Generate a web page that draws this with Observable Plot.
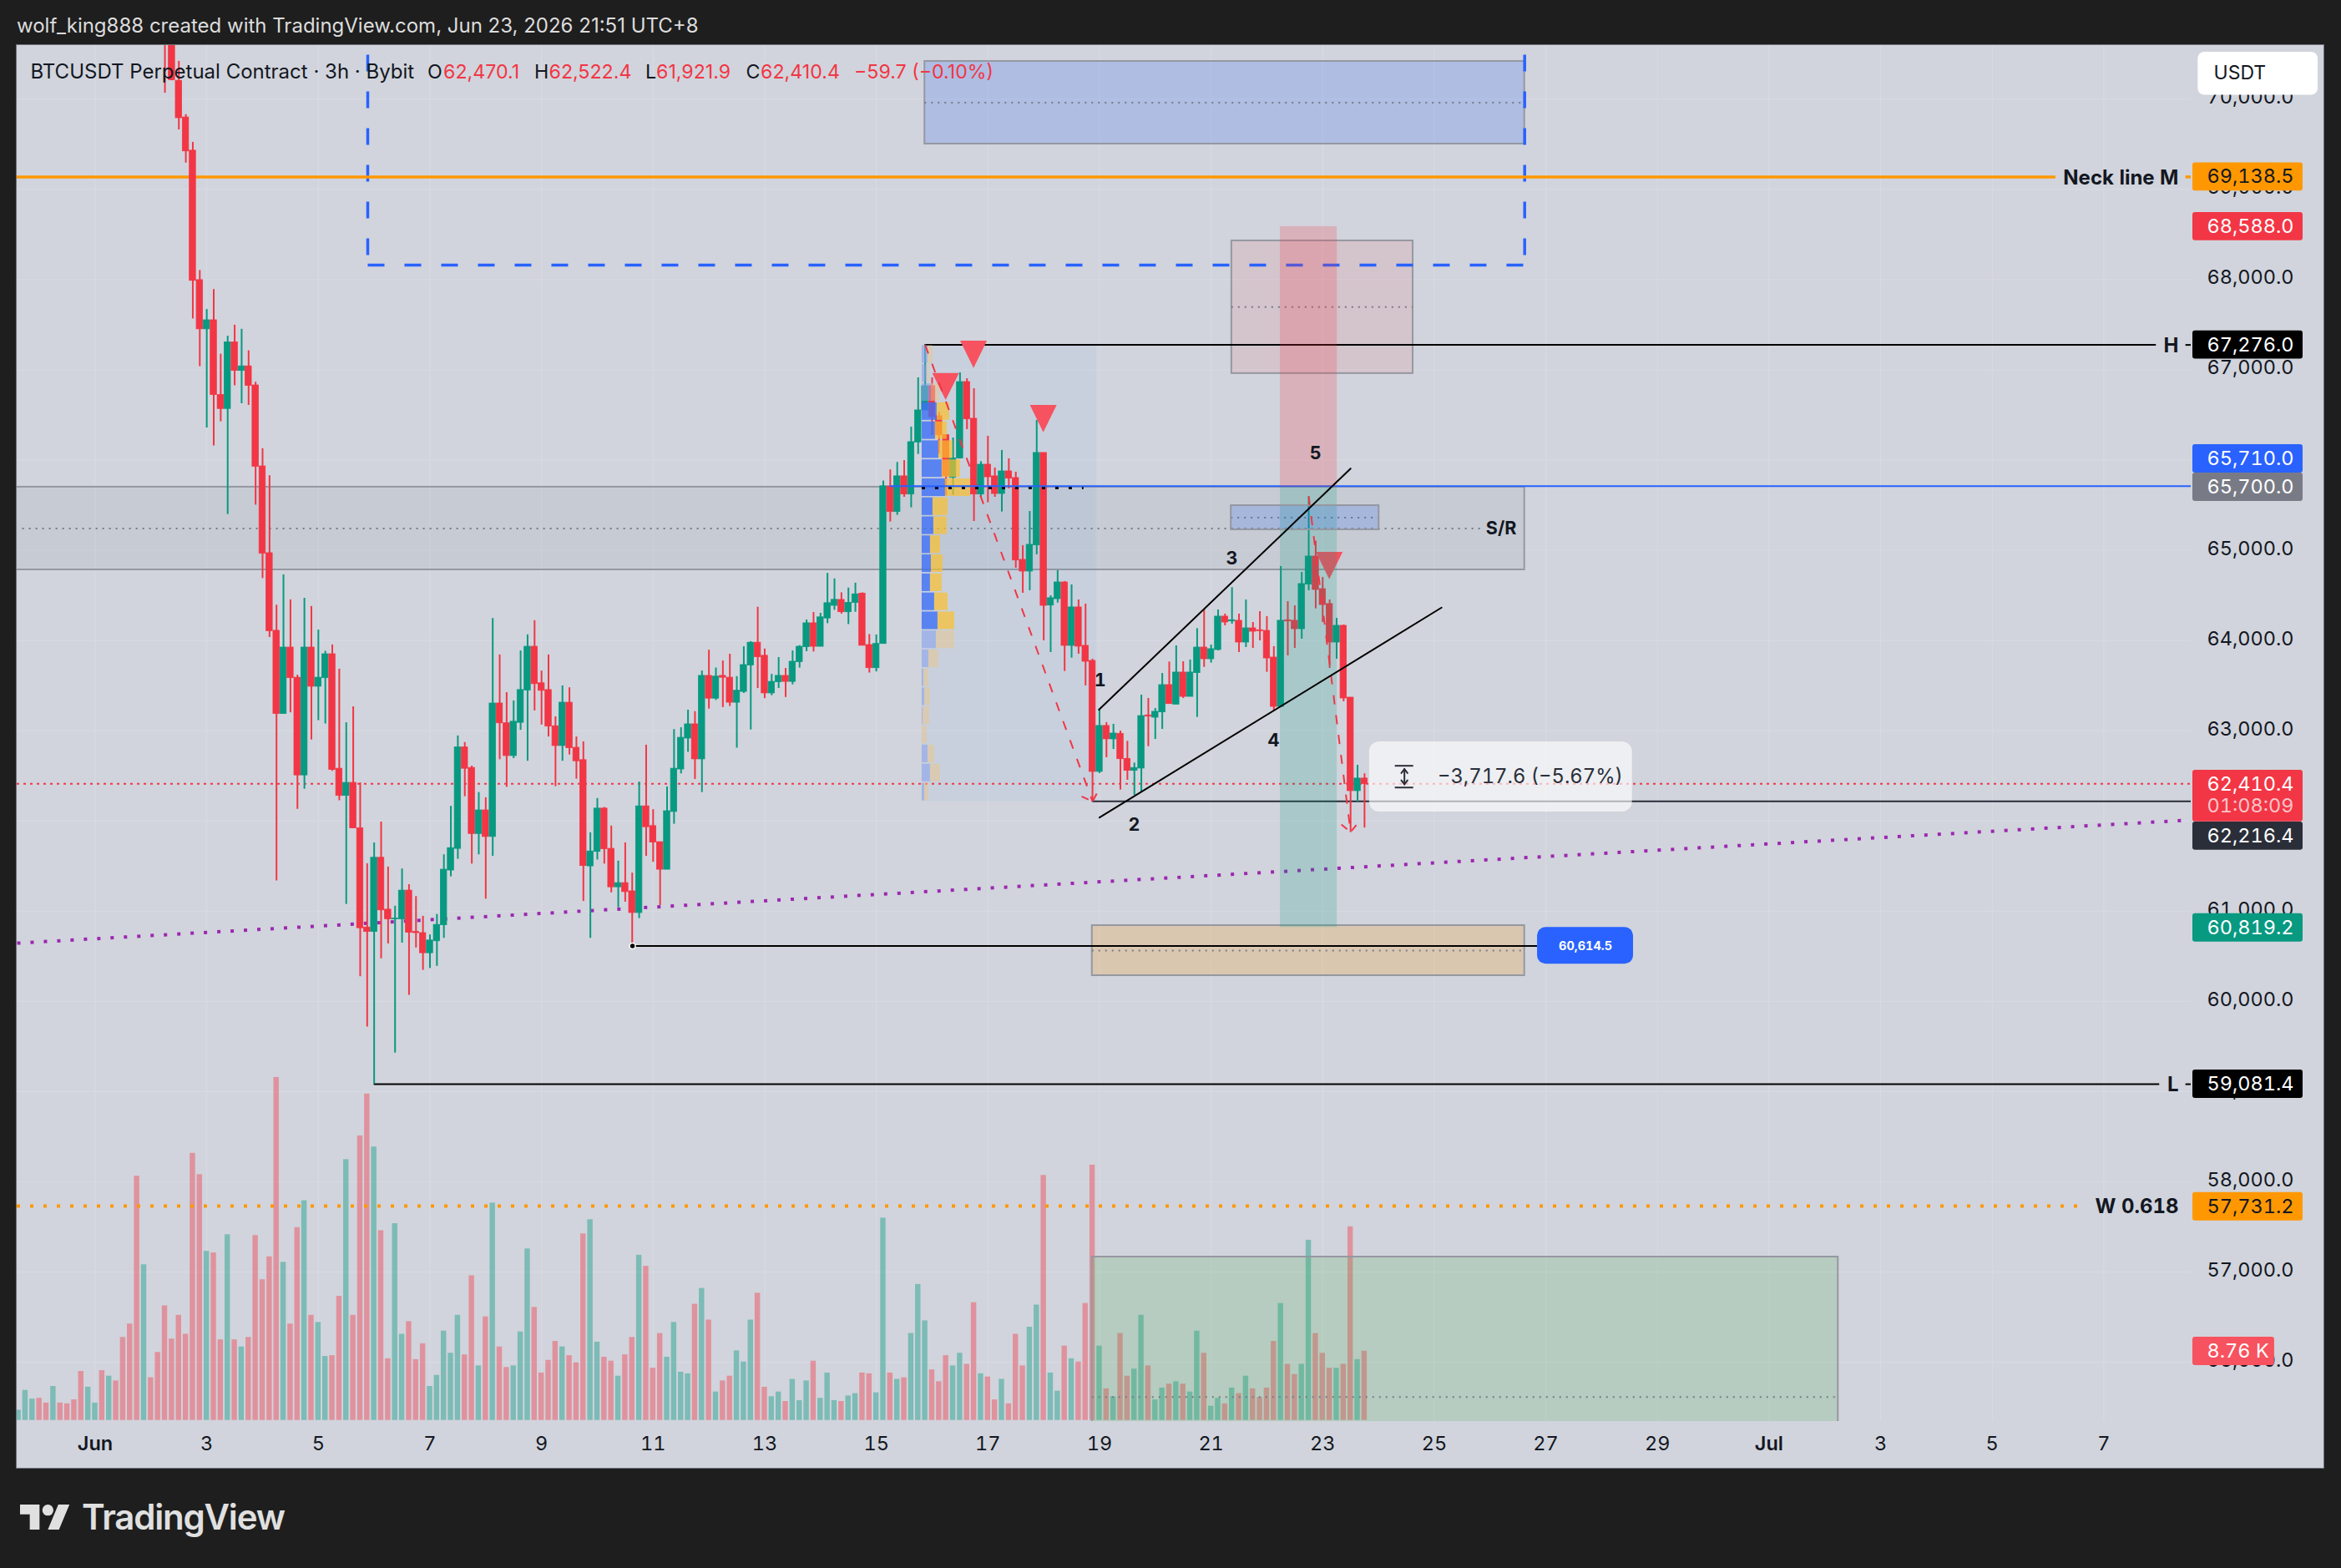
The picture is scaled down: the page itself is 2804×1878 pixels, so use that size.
<!DOCTYPE html>
<html><head><meta charset="utf-8">
<script src="https://cdn.jsdelivr.net/npm/d3@7"></script>
<script src="https://cdn.jsdelivr.net/npm/@observablehq/plot@0.6"></script>
<style>
html,body{margin:0;padding:0;background:#1e1e1e;width:2804px;height:1878px;overflow:hidden}
#root{position:relative;width:2804px;height:1878px;font-family:Inter,"Noto Sans",sans-serif}
#head{position:absolute;left:20px;top:16px;color:#dcdcdc;font-size:24px;line-height:30px;white-space:nowrap}
#chart{position:absolute;left:20px;top:54px}
#chart svg{display:block;background:#d1d4dc;outline:1px solid #6f727c}
#chart svg text{font-feature-settings:"tnum"}
#legend span{position:absolute;top:71px;font-size:23.2px;line-height:30px;white-space:nowrap;color:#131722}
#legend span.m{font-size:24px}
#legend span.v{color:#f23645}
#foot{position:absolute;left:24px;top:1802px;display:flex;align-items:center;color:#e0e0e0}
#foot b{position:absolute;left:74px;top:-11px;font-size:42px;line-height:52px;font-weight:600;letter-spacing:-1.2px}
</style></head><body>
<div id="root">
  <div id="head">wolf_king888 created with TradingView.com, Jun 23, 2026 21:51 UTC+8</div>
  <div id="chart"></div>
  <div id="legend"></div>
  <div id="foot"><svg width="60" height="30" viewBox="0 4 36 18" fill="#e0e0e0"><path d="M14 22H7V11H0V4h14v18zM28 22h-8l7.5-18h8L28 22z"/><circle cx="20" cy="8" r="4"/></svg><b>TradingView</b></div>
</div>
<script>
// ---------- price series: 3h bars, the first at Jun 2 06:00 (UTC+8)
const firstCandleBar = 10;
const candleOpen = [71200,70800,70205,69798,69430,67995,67450,67550,66721,66567,67304,66989,67039,66828,65930,64968,
64108,63187,63922,63588,62505,63922,63488,63583,63848,62579,
62278,62422,61918,60819,60770,61592,61017,60910,60910,61228,
60770,60757,60534,60667,60844,61451,61691,62815,62588,61856,
62117,61823,63302,63083,62720,63088,63447,63931,63526,63451,
63050,62831,63311,62811,62674,61497,61658,62137,61691,61265,
61311,61220,60980,62162,61943,61765,61460,62100,62571,62914,
63071,62683,63608,63356,63608,63588,63311,63431,63724,63976,
63831,63414,63538,63608,63542,63761,63927,64191,63931,64245,
64385,64450,64314,64417,64520,63950,63694,63962,65709,65425,
65820,65619,66196,66551,66819,66486,66276,65804,66017,66865,
66458,65619,65949,65820,65625,65875,65801,64894,64765,65055,
66079,64388,64459,64644,63941,64367,63941,63774,62544,63053,
62905,62966,62688,62556,62581,63170,63145,63204,63506,63290,
63645,63376,63639,63922,63793,63895,64265,64212,64219,63978,
64135,64114,64107,63811,63265,64225,64219,64126,64620,64931,
64570,64404,63978,64163,63367,62331,62470.1];
const candleHigh = [71400,71000,70420,69829,69522,68102,67669,67891,67174,67373,67496,67450,67212,66863,66126,65827,
64393,64728,64451,63616,64468,64377,64116,63881,63951,63683,
63088,63265,62422,61526,61757,61988,61489,61055,61468,61294,
61162,60943,60737,60964,61625,62162,62943,62869,62608,62315,
62257,64245,63840,63422,63331,63885,64063,64220,63662,63840,
63154,63497,63476,62931,62877,61869,62249,62150,61943,61555,
61757,61422,62431,62840,62125,61765,62377,63013,63034,63228,
63212,63662,63893,63695,63774,63848,63600,63931,63988,64369,
63906,63625,63811,63691,63885,63943,64228,64311,64302,64745,
64683,64529,64582,64636,64529,64066,64062,65768,65891,65974,
65995,66366,66912,67276,66912,66529,66282,66245,66967,66902,
66791,65983,66264,65912,66107,66014,65866,65052,65431,66440,
66079,64496,64774,64654,64617,64450,64404,63793,63228,63090,
63071,62997,62883,62642,63395,63358,63247,63635,63762,63941,
63765,63784,64132,64339,63950,64339,64293,64586,64293,64450,
64200,64320,64265,63932,64820,64431,64385,64755,65594,65101,
64700,64450,64246,64172,63367,62617,62522.4];
const candleLow = [70067,70205,69660,69292,67565,67036,66356,66157,66425,65397,66824,66625,66606,65501,64687,64034,
61336,63187,63199,62129,62352,62898,63112,63075,62550,62224,
61075,61918,60274,59716,59081,60472,60637,59427,60646,60067,
60592,60344,60365,60389,60699,61381,61575,62269,61522,61625,
61133,61608,62679,62373,62691,63005,62662,63220,63063,62931,
62381,62662,62732,62464,61108,60699,61567,61522,61203,61038,
61100,60614.5,60918,61608,61542,61063,61460,61964,62522,62761,
62460,62315,63240,63336,63257,63269,62807,63414,63009,63468,
63356,63389,63468,63369,63509,63695,63877,63873,63931,64187,
64335,64293,64177,64314,63942,63640,63653,63962,65314,65388,
65588,65471,66063,66551,66276,66066,65604,65610,66017,66338,
65320,65582,65527,65588,65425,65681,64802,64524,64552,64950,
63997,63867,64416,63657,63805,63849,63497,62210,62525,62701,
62793,62343,62451,62284,62315,62824,62904,63015,63296,63290,
63358,63376,63148,63703,63750,63885,64163,64182,63867,63922,
63913,63996,63648,63219,63265,63830,63913,64015,64552,64351,
64200,63691,63793,63321,61871,62210,61921.9];
const candleClose = [70700,70212,69790,69422,67987,67450,67550,66721,66567,67304,66989,67039,66824,65927,64964,64104,
63187,63922,63583,62505,63922,63488,63588,63848,62567,62278,
62422,61918,60811,60770,61592,61009,60910,60918,61228,60761,
60757,60534,60675,60848,61460,61699,62815,62579,61856,62117,
61823,63302,63083,62720,63100,63451,63931,63517,63443,63046,
62831,63311,62807,62662,61501,61662,62137,61687,61265,61311,
61212,60980,62162,61931,61761,61460,62108,62579,62922,63071,
62683,63608,63356,63600,63588,63311,63443,63728,63976,63815,
63414,63542,63608,63542,63765,63931,64191,63931,64257,64414,
64451,64314,64417,64512,63942,63694,63962,65710,65425,65820,
65619,66199,66551,66819,66477,66276,65820,66017,66865,66452,
65619,65949,65810,65625,65875,65795,64888,64765,65061,66079,
64385,64469,64644,63941,64367,63932,63765,62544,63053,62905,
62969,62685,62556,62587,63163,63157,63210,63506,63296,63645,
63376,63645,63922,63793,63904,64265,64200,64225,63978,64135,
64098,64104,63802,63265,64219,64212,64126,64626,64931,64561,
64394,63978,64163,63358,62331,62470,62410.4];

// ---------- volume in K: the first bar is May 30 15:00
const firstVolumeBar = -11;
const volumeK = [1.3,3.8,2.7,2.8,2.2,4.3,2.2,2.1,2.6,6.2,4.2,2.2,6.3,5.6,5.0,10.5,12.2,30.9,19.7,5.4,8.6,
14.5,10.3,13.3,10.9,33.8,31.1,21.4,21.2,10.2,23.5,10.2,9.3,10.5,23.4,17.8,20.7,
43.4,20.0,12.2,24.4,27.8,13.3,12.4,8.1,8.2,15.7,33.0,13.3,36.0,41.3,34.6,24.0,7.8,24.9,10.9,12.5,
7.7,9.7,4.3,5.7,11.3,8.5,13.3,8.3,18.3,6.9,13.1,27.5,9.3,6.7,6.9,11.2,21.7,14.3,6.0,7.6,10.0,9.3,8.2,7.3,
23.6,25.4,9.9,8.0,7.5,5.6,8.3,10.5,20.9,19.5,6.6,11.0,8.0,12.4,6.1,5.9,14.7,16.7,12.7,3.6,5.0,5.6,8.8,7.4,12.7,
16.1,4.2,3.0,3.6,2.4,5.2,2.5,5.0,7.5,2.8,6.0,2.5,2.4,3.1,3.4,6.0,5.9,3.5,25.6,6.0,5.2,5.4,11.0,17.2,12.6,
6.4,4.9,8.2,6.9,8.5,7.1,14.9,5.9,5.5,2.6,5.2,2.1,10.9,6.9,11.8,14.6,31.0,6.0,3.7,9.4,7.8,7.4,14.8,32.3,
9.4,4.0,3.0,11.0,5.6,6.5,13.3,6.9,2.6,4.1,4.6,4.9,4.6,3.6,11.3,8.5,1.8,2.8,2.1,4.1,3.4,5.6,4.0,2.9,4.1,
10.0,14.8,7.1,5.8,7.1,22.8,11.0,8.5,6.6,6.6,7.1,24.5,7.7,8.76];
// direction of the bars above the top of the pane (no candle visible): 1 up, 0 down
const earlyVolumeUp = [1,1,1,0,0,1,0,0,0,0,1,1,0,1,0,0,0,0,1,0,0];

// ---------- axes
const priceGrid = [56000,57000,58000,59000,60000,61000,62000,63000,64000,65000,66000,67000,68000,69000,70000];
const priceTicks = [56000,57000,58000,59000,60000,61000,63000,64000,65000,67000,68000,69000,70000];
const dayTicks = [3,5,7,9,11,13,15,17,19,21,23,25,27,29,33,35,37];
const monthTicks = [1,31];
const dayLabel = d => d > 31 ? d - 30 : d;
const monthLabel = d => d === 1 ? "Jun" : "Jul";

// ---------- volume profile rows, top to bottom, between 67,276 and 62,216
const profileTop = 67276, profileBottom = 62216;
const profileUp =   [7,6,11,18,16,20,24,28,13,14,10,11,10,15,19,17,8,2,3,1,0,7,10,3];
const profileDown = [6,3,10,15,14,17,22,30,18,16,12,14,14,16,20,22,12,6,7,8,6,8,12,5];
const profileBrightFrom = 3, profileBrightTo = 14;

// ---------- drawing tools (x in days of June, y in price)
const boxes = [
  {x1:-0.6,x2:26.62,top:65700,bottom:64783,fill:"rgba(120,123,134,0.1)"},
  {x1:15.87,x2:26.62,top:70419,bottom:69503,fill:"rgba(41,98,255,0.2)"},
  {x1:21.37,x2:24.62,top:68430,bottom:66959,fill:"rgba(242,54,69,0.1)"},
  {x1:18.87,x2:26.62,top:60840,bottom:60285,fill:"rgba(255,152,0,0.2)"},
  {x1:18.87,x2:32.24,top:57166,bottom:54060,fill:"rgba(76,175,80,0.2)"}
];
const smallBox = {x1:21.36,x2:24.01,top:65495,bottom:65227,fill:"rgba(41,98,255,0.2)"};
const midlines = [
  {x1:-0.3,x2:25.9,p:65241},{x1:15.87,x2:26.62,p:69961},{x1:21.37,x2:24.62,p:67695},
  {x1:18.87,x2:26.62,p:60562},{x1:18.87,x2:32.24,p:55613},{x1:21.36,x2:24.01,p:65361}
];
const position = {x1:22.24,x2:23.26,stop:68588,entry:65700,target:60819.2};
const dashedBoxLeft = [[5.885,70900],[5.885,68162]];
const dashedBoxBottom = [[5.885,68162],[26.62,68162]];
const dashedBoxRight = [[26.62,70900],[26.62,68162]];
const trendPurple = [[-0.399,60645],[38.47,62007]];
const channelUpper = [[18.99,63232],[23.5,65905]];
const channelLower = [[19,62037],[25.13,64364]];
const dropOne = [[15.875,67276],[18.875,62216]];
const dropTwo = [[22.75,65598],[23.5,61877]];
const barbsOne = [[18.68,62272],[18.875,62216],[18.98,62336]];
const barbsTwo = [[23.335,61960],[23.5,61877],[23.645,61985]];
const triangles = [
  {day:16.75,top:67319,tip:67016},{day:16.25,top:66961,tip:66662},
  {day:18,top:66606,tip:66304},{day:23.125,top:64977,tip:64675}
];
const waveLabels = [
  {t:"1",d:19.01,p:63552},{t:"2",d:19.62,p:61954},{t:"3",d:21.37,p:64903},
  {t:"4",d:22.12,p:62886},{t:"5",d:22.87,p:66074},{t:"S/R",d:26.2,p:65240}
];
const lineLabels = [
  {t:"Neck line M",p:69138.5},{t:"H",p:67276},{t:"L",p:59081.4},{t:"W 0.618",p:57731.2}
];
const tags = [
  {t:"69,138.5",c:69138.5,h:157,x2:40.57,fill:"#ff9800",ink:"#131722"},
  {t:"68,588.0",c:68588,h:157,x2:40.57,fill:"#f23645",ink:"#fff"},
  {t:"67,276.0",c:67276,h:157,x2:40.57,fill:"#000",ink:"#fff"},
  {t:"65,710.0",c:66014,h:157,x2:40.57,fill:"#2962ff",ink:"#fff"},
  {t:"65,700.0",c:65700,h:157,x2:40.57,fill:"#787b86",ink:"#fff"},
  {t:"62,216.4",c:61832,h:157,x2:40.57,fill:"#2a2e39",ink:"#fff"},
  {t:"60,819.2",c:60815,h:157,x2:40.57,fill:"#089981",ink:"#fff"},
  {t:"59,081.4",c:59081.4,h:157,x2:40.57,fill:"#000",ink:"#fff"},
  {t:"57,731.2",c:57724,h:157,x2:40.57,fill:"#ff9800",ink:"#131722"},
  {t:"8.76 K",c:56120,h:157,x2:40.06,fill:"#f7525f",ink:"#fff"}
];
const legendLeft = [["BTCUSDT Perpetual Contract · 3h · Bybit",36.5,"m"],["O",512,""],["62,470.1",531,"v"],["H",640,""],["62,522.4",657.5,"v"],["L",773,""],["61,921.9",786,"v"],["C",893.5,""],["62,410.4",911,"v"],["−59.7 (−0.10%)",1023,"v"]];

// ---------- tables built from the lists
const RED = "#f23645", GREEN = "#089981";
const barDay = k => 1 + k / 8;
const candles = candleOpen.map((o, i) => ({
  day: barDay(firstCandleBar + i), o, h: candleHigh[i], l: candleLow[i], c: candleClose[i],
  col: candleClose[i] >= o ? GREEN : RED
}));
const volumes = volumeK.map((v, i) => {
  const k = firstVolumeBar + i;
  const up = k < firstCandleBar ? earlyVolumeUp[i] === 1 : candles[k - firstCandleBar].c >= candles[k - firstCandleBar].o;
  return {day: barDay(k), v, col: up ? GREEN : RED};
});
const volumeBase = 55355, pricePerVolumeK = 87.6;
const volumeToPrice = v => volumeBase + v * pricePerVolumeK;

const rowStep = (profileTop - profileBottom) / profileUp.length;
const profileStart = 15.82, dayPerProfileUnit = 1 / 66.83;
const profile = [];
profileUp.forEach((u, i) => {
  const bright = i >= profileBrightFrom && i <= profileBrightTo;
  const top = profileTop - i * rowStep - 8, bottom = profileTop - (i + 1) * rowStep + 8;
  const a = profileStart, b = a + u * dayPerProfileUnit, c = b + profileDown[i] * dayPerProfileUnit;
  if (u > 0) profile.push({x1: a, x2: b, top, bottom, fill: bright ? "#3f6ff8" : "#8ba3ec", op: bright ? 0.8 : 0.6});
  profile.push({x1: b, x2: c, top, bottom, fill: bright ? "#fbc02d" : "#e8c590", op: bright ? 0.7 : 0.55});
});
const triPts = triangles.flatMap((t, i) => [
  {i, d: t.day - 0.24, y1: t.top, y2: t.top},
  {i, d: t.day, y1: t.top, y2: t.tip},
  {i, d: t.day + 0.24, y1: t.top, y2: t.top}
]);
const fmtPrice = d3.format(",.1f");
const ink = "#131722", gridColor = "#dde0e7";
const boxMark = (data) => Plot.rect(data, {x1:"x1",x2:"x2",y1:"bottom",y2:"top",fill:"fill",stroke:"#9598a1",strokeWidth:2,clip:true});
const dotted = {stroke:"#787b86",strokeWidth:2,strokeDasharray:"2,6",clip:true};
const dash = (stroke, strokeWidth, strokeDasharray) => ({stroke, strokeWidth, strokeDasharray, strokeLinecap: "butt", strokeLinejoin: "miter", clip: true});

const plot = Plot.plot({
  width: 2763, height: 1704, marginLeft: 0, marginRight: 159, marginTop: 0, marginBottom: 56,
  x: {domain: [-0.399, 38.565], axis: null},
  y: {domain: [55343, 70595], axis: null},
  style: {fontFamily: "Inter, 'Noto Sans', sans-serif", background: "#d1d4dc", overflow: "visible"},
  marks: [
    Plot.gridX(dayTicks.concat(monthTicks), {stroke: gridColor, strokeOpacity: 0.6, strokeWidth: 1}),
    Plot.gridY(priceGrid, {stroke: gridColor, strokeOpacity: 0.6, strokeWidth: 1}),
    Plot.axisY(priceTicks, {anchor: "right", tickSize: 0, tickPadding: 19, tickFormat: fmtPrice, fontSize: 23.5, fill: ink, dy: -2}),
    Plot.axisX(dayTicks, {anchor: "bottom", tickSize: 0, tickPadding: 18, tickFormat: dayLabel, fontSize: 23.5, fill: ink}),
    Plot.axisX(monthTicks, {anchor: "bottom", tickSize: 0, tickPadding: 18, tickFormat: monthLabel, fontSize: 23.5, fontWeight: 600, fill: ink}),
    // volume
    Plot.rect(volumes, {x1: d => d.day - 0.048, x2: d => d.day + 0.048, y1: volumeBase, y2: d => volumeToPrice(d.v), fill: "col", fillOpacity: 0.42, clip: true}),
    // zones under the candles
    boxMark(boxes),
    Plot.ruleY(midlines, {x1: "x1", x2: "x2", y: "p", ...dotted}),
    Plot.text(waveLabels.filter(w => w.t === "S/R"), {x: "d", y: "p", text: "t", fontSize: 21.5, fontWeight: 700, fill: ink}),
    Plot.line(dashedBoxLeft, dash("#2962ff", 3.5, "20,24")),
    Plot.line(dashedBoxBottom, dash("#2962ff", 3.5, "20,24")),
    Plot.line(dashedBoxRight, dash("#2962ff", 3.5, "20,24")),
    Plot.line(trendPurple, dash("#9c27b0", 4, "4,12")),
    Plot.rect([{x1:15.82,x2:18.94,top:67276,bottom:62216}], {x1:"x1",x2:"x2",y1:"bottom",y2:"top",fill:"rgba(33,130,255,0.05)"}),
    // horizontal levels
    Plot.ruleY([{p:69138.5,a:-0.399,b:36.14},{p:69138.5,a:38.47,b:38.565}], {x1:"a",x2:"b",y:"p",stroke:"#ff9800",strokeWidth:3.5}),
    Plot.ruleY([{p:67276,a:15.87,b:37.94},{p:67276,a:38.47,b:38.565}], {x1:"a",x2:"b",y:"p",stroke:"#000",strokeWidth:2}),
    Plot.ruleY([{p:59081.4,a:6,b:38.0},{p:59081.4,a:38.47,b:38.565}], {x1:"a",x2:"b",y:"p",stroke:"#000",strokeWidth:2}),
    Plot.ruleY([{p:60614.5,a:10.63,b:26.85}], {x1:"a",x2:"b",y:"p",stroke:"#000",strokeWidth:2}),
    Plot.ruleY([{p:62216.4,a:18.875,b:38.565}], {x1:"a",x2:"b",y:"p",stroke:"#2a2e39",strokeWidth:2}),
    Plot.ruleY([{p:62410.4,a:-0.399,b:38.565}], {x1:"a",x2:"b",y:"p",stroke:"#f23645",strokeWidth:2,strokeDasharray:"3,5"}),
    Plot.ruleY([{p:57731.2,a:-0.399,b:36.53}], {x1:"a",x2:"b",y:"p",stroke:"#ff9800",strokeWidth:4,strokeDasharray:"4,12"}),
    // candles
    Plot.ruleX(candles, {x: "day", y1: "l", y2: "h", stroke: "col", strokeWidth: 2, clip: true}),
    Plot.rect(candles, {x1: d => d.day - 0.056, x2: d => d.day + 0.056, y1: d => Math.min(d.o, d.c), y2: d => Math.max(d.o, d.c), fill: "col", stroke: "col", strokeWidth: 0.8, clip: true}),
    // volume profile
    Plot.rect(profile, {x1:"x1",x2:"x2",y1:"bottom",y2:"top",fill:"fill",fillOpacity:"op"}),
    Plot.ruleY([{p:65690,a:15.82,b:18.72}], {x1:"a",x2:"b",y:"p",stroke:"#000",strokeWidth:3,strokeDasharray:"4,12"}),
    Plot.ruleY([{p:65710,a:15.24,b:38.565}], {x1:"a",x2:"b",y:"p",stroke:"#2962ff",strokeWidth:2}),
    // triangles, boxes and the position tool over the candles
    Plot.area(triPts, {x1:"d",y1:"y1",y2:"y2",z:"i",fill:"#f7525f"}),
    Plot.rect([position], {x1:"x1",x2:"x2",y1:"entry",y2:"stop",fill:"rgba(242,54,69,0.22)"}),
    Plot.rect([position], {x1:"x1",x2:"x2",y1:"target",y2:"entry",fill:"rgba(8,153,129,0.2)"}),
    boxMark([smallBox]),
    // dashed projections and channel
    Plot.line(dropOne, dash(RED, 2, "11,13")),
    Plot.line(dropTwo, dash(RED, 2, "11,13")),
    Plot.line(barbsOne, dash(RED, 2, "9,7")),
    Plot.line(barbsTwo, dash(RED, 2, "9,7")),
    Plot.line(channelUpper, {stroke:"#000",strokeWidth:2}),
    Plot.line(channelLower, {stroke:"#000",strokeWidth:2}),
    Plot.text(waveLabels.filter(w => w.t !== "S/R"), {x:"d",y:"p",text:"t",fontSize:21.5,fontWeight:700,fill:ink}),
    Plot.dot([{d:10.63,p:60614.5}], {x:"d",y:"p",r:3.5,fill:"#000",stroke:"#fff",strokeWidth:1.5}),
    // price-move tooltip
    Plot.rect([{a:23.84,b:28.55,t:62876,u:62099}], {x1:"a",x2:"b",y1:"u",y2:"t",fill:"#fff",fillOpacity:0.63,rx:12}),
    Plot.ruleY([62611,62370], {x1:24.3,x2:24.63,stroke:"#2a2e39",strokeWidth:2}),
    Plot.line([[24.465,62575],[24.465,62405]], {stroke:"#2a2e39",strokeWidth:2}),
    Plot.line([[24.41,62530],[24.465,62575],[24.52,62530]], {stroke:"#2a2e39",strokeWidth:2}),
    Plot.line([[24.41,62450],[24.465,62405],[24.52,62450]], {stroke:"#2a2e39",strokeWidth:2}),
    Plot.text(["−3,717.6 (−5.67%)"], {x:28.38,y:62488,textAnchor:"end",fontSize:23.8,fill:"#2a2e39"}),
    // level name labels, level tag
    Plot.text(lineLabels, {x:38.34,y:"p",text:"t",textAnchor:"end",fontSize:24,fontWeight:700,fill:ink,dy:1}),
    Plot.rect([{a:26.85,b:28.57,t:60819,u:60412}], {x1:"a",x2:"b",y1:"u",y2:"t",fill:"#2962ff",rx:10}),
    Plot.text(["60,614.5"], {x:27.71,y:60614.5,fontSize:14.5,fontWeight:700,fill:"#fff"}),
    // price scale tags
    Plot.rect(tags, {x1:38.595,x2:"x2",y1:d => d.c - d.h,y2:d => d.c + d.h,fill:"fill",rx:3}),
    Plot.rect([{t:62562,u:61990}], {x1:38.595,x2:40.57,y1:"u",y2:"t",fill:"#f23645",rx:3}),
    Plot.text(tags, {x:38.85,y:"c",text:"t",textAnchor:"start",fontSize:23.5,fill:"ink"}),
    Plot.text(["62,410.4"], {x:38.85,y:62408,textAnchor:"start",fontSize:23.5,fill:"#fff"}),
    Plot.text(["01:08:09"], {x:38.85,y:62167,textAnchor:"start",fontSize:23.5,fill:"#fbc4c9"}),
    Plot.rect([{a:38.69,b:40.84,t:70521,u:70044}], {x1:"a",x2:"b",y1:"u",y2:"t",fill:"#fff",rx:8}),
    Plot.text(["USDT"], {x:38.97,y:70289,textAnchor:"start",fontSize:23,fill:ink})
  ]
});
document.getElementById("chart").appendChild(plot);
const leg = document.getElementById("legend");
legendLeft.forEach(([t, x, c]) => {
  const s = document.createElement("span");
  s.textContent = t; s.style.left = x + "px"; if (c) s.className = c;
  leg.appendChild(s);
});
</script>
</body></html>
